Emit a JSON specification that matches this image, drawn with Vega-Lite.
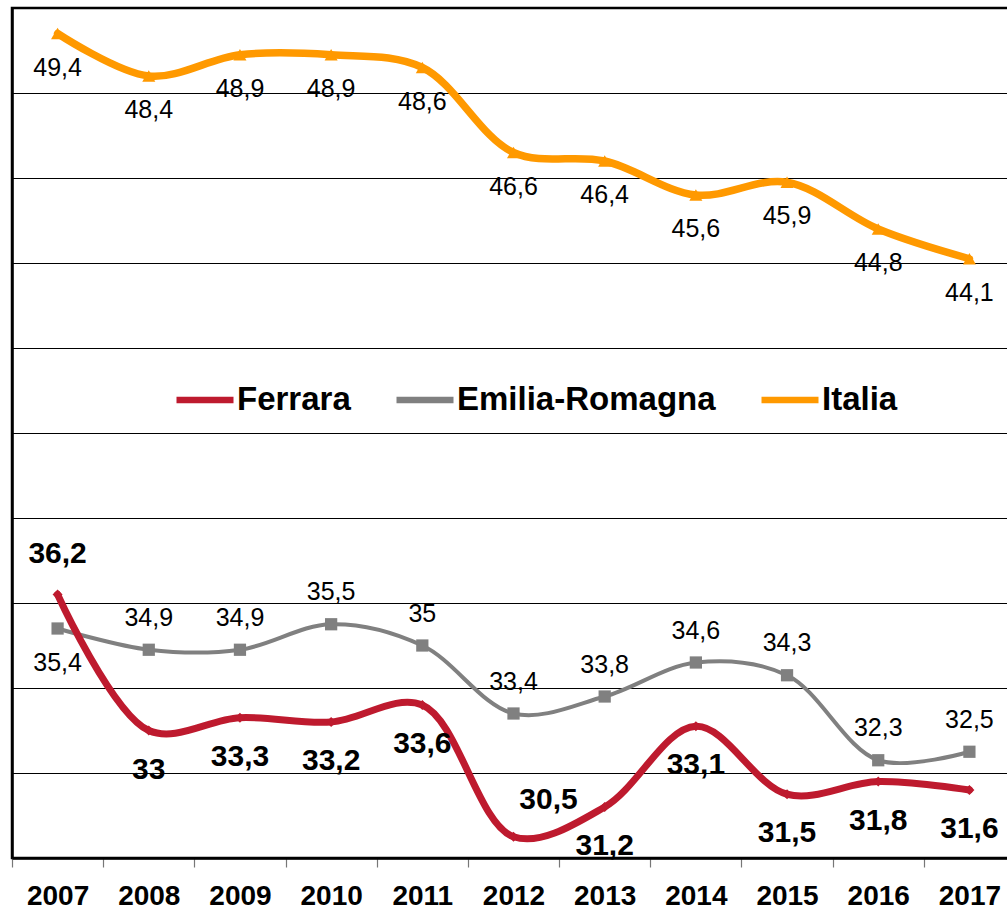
{
  "$schema": "https://vega.github.io/schema/vega-lite/v6.json",
  "width": 1003,
  "height": 850,
  "autosize": {"type": "none"},
  "padding": {"left": 12, "top": 8, "right": 0, "bottom": 52},
  "background": "white",
  "config": {
    "locale": {"number": {"decimal": ",", "thousands": ".", "grouping": [3], "currency": ["", " €"]}},
    "view": {"stroke": "black", "strokeWidth": 2.5},
    "font": "Liberation Sans"
  },
  "data": {
    "values": [
      {"year": "2007", "series": "Italia", "value": 49.4},
      {"year": "2008", "series": "Italia", "value": 48.4},
      {"year": "2009", "series": "Italia", "value": 48.9},
      {"year": "2010", "series": "Italia", "value": 48.9},
      {"year": "2011", "series": "Italia", "value": 48.6},
      {"year": "2012", "series": "Italia", "value": 46.6},
      {"year": "2013", "series": "Italia", "value": 46.4},
      {"year": "2014", "series": "Italia", "value": 45.6},
      {"year": "2015", "series": "Italia", "value": 45.9},
      {"year": "2016", "series": "Italia", "value": 44.8},
      {"year": "2017", "series": "Italia", "value": 44.1},
      {"year": "2007", "series": "Emilia-Romagna", "value": 35.4},
      {"year": "2008", "series": "Emilia-Romagna", "value": 34.9},
      {"year": "2009", "series": "Emilia-Romagna", "value": 34.9},
      {"year": "2010", "series": "Emilia-Romagna", "value": 35.5},
      {"year": "2011", "series": "Emilia-Romagna", "value": 35},
      {"year": "2012", "series": "Emilia-Romagna", "value": 33.4},
      {"year": "2013", "series": "Emilia-Romagna", "value": 33.8},
      {"year": "2014", "series": "Emilia-Romagna", "value": 34.6},
      {"year": "2015", "series": "Emilia-Romagna", "value": 34.3},
      {"year": "2016", "series": "Emilia-Romagna", "value": 32.3},
      {"year": "2017", "series": "Emilia-Romagna", "value": 32.5},
      {"year": "2007", "series": "Ferrara", "value": 36.2},
      {"year": "2008", "series": "Ferrara", "value": 33},
      {"year": "2009", "series": "Ferrara", "value": 33.3},
      {"year": "2010", "series": "Ferrara", "value": 33.2},
      {"year": "2011", "series": "Ferrara", "value": 33.6},
      {"year": "2012", "series": "Ferrara", "value": 30.5},
      {"year": "2013", "series": "Ferrara", "value": 31.2},
      {"year": "2014", "series": "Ferrara", "value": 33.1},
      {"year": "2015", "series": "Ferrara", "value": 31.5},
      {"year": "2016", "series": "Ferrara", "value": 31.8},
      {"year": "2017", "series": "Ferrara", "value": 31.6}
    ]
  },
  "encoding": {
    "x": {
      "field": "year", "type": "ordinal", "bandPosition": 0.5,
      "scale": {"type": "band", "paddingInner": 0, "paddingOuter": 0},
      "axis": {
        "title": null, "domainColor": "black", "domainWidth": 2.5,
        "tickColor": "#777777", "tickWidth": 1.2, "tickSize": 9, "tickBand": "extent",
        "labelFont": "Liberation Sans", "labelFontWeight": "bold", "labelFontSize": 28,
        "labelColor": "black", "labelPadding": 15, "labelAngle": 0, "grid": false
      }
    },
    "y": {
      "field": "value", "type": "quantitative",
      "scale": {"domain": [30, 50], "nice": false, "zero": false},
      "axis": {
        "title": null, "labels": false, "ticks": false,
        "values": [30, 32, 34, 36, 38, 40, 42, 44, 46, 48, 50],
        "domainColor": "black", "domainWidth": 2.5,
        "grid": true, "gridColor": "black", "gridWidth": 1, "gridOpacity": 1
      }
    },
    "color": {
      "field": "series", "type": "nominal",
      "scale": {"domain": ["Ferrara", "Emilia-Romagna", "Italia"], "range": ["#BE1A2E", "#808080", "#FF9900"]},
      "legend": {
        "title": null, "orient": "none", "direction": "horizontal",
        "legendX": 161, "legendY": 360,
        "symbolType": "stroke", "symbolStrokeWidth": 6.5, "symbolSize": 3249,
        "labelFont": "Liberation Sans", "labelFontWeight": "bold", "labelFontSize": 33,
        "labelColor": "black", "labelOffset": 0, "columnPadding": 32, "labelLimit": 400
      }
    }
  },
  "layer": [
    {
      "transform": [{"filter": "datum.series === 'Italia'"}],
      "mark": {"type": "line", "interpolate": "catmull-rom", "strokeCap": "round", "strokeJoin": "round", "strokeWidth": 7.5}
    },
    {
      "transform": [{"filter": "datum.series === 'Emilia-Romagna'"}],
      "mark": {"type": "line", "interpolate": "catmull-rom", "strokeCap": "round", "strokeJoin": "round", "strokeWidth": 4}
    },
    {
      "transform": [{"filter": "datum.series === 'Ferrara'"}],
      "mark": {"type": "line", "interpolate": "catmull-rom", "strokeCap": "round", "strokeJoin": "round", "strokeWidth": 7}
    },
    {
      "transform": [{"filter": "datum.series === 'Ferrara'"}],
      "mark": {"type": "point", "filled": true, "opacity": 1, "shape": "diamond", "size": 100, "color": "#BE1A2E"},
      "encoding": {"color": {"value": "#BE1A2E"}}
    },
    {
      "transform": [{"filter": "datum.series === 'Emilia-Romagna'"}],
      "mark": {"type": "point", "filled": true, "opacity": 1, "shape": "square", "size": 150, "color": "#808080"},
      "encoding": {"color": {"value": "#808080"}}
    },
    {
      "transform": [{"filter": "datum.series === 'Italia'"}],
      "mark": {"type": "point", "filled": true, "opacity": 1, "shape": "triangle-up", "size": 170, "color": "#FF9900"},
      "encoding": {"color": {"value": "#FF9900"}}
    },
    {
      "transform": [{"filter": "datum.series === 'Italia'"}],
      "mark": {"type": "text", "dy": 34, "fontSize": 25, "font": "Liberation Sans", "baseline": "middle"},
      "encoding": {"text": {"field": "value", "type": "quantitative", "format": "~g"}, "color": {"value": "black"}}
    },
    {
      "transform": [{"filter": "datum.series === 'Emilia-Romagna' && datum.year !== '2007'"}],
      "mark": {"type": "text", "dy": -32, "fontSize": 25, "font": "Liberation Sans", "baseline": "middle"},
      "encoding": {"text": {"field": "value", "type": "quantitative", "format": "~g"}, "color": {"value": "black"}}
    },
    {
      "transform": [{"filter": "datum.series === 'Emilia-Romagna' && datum.year === '2007'"}],
      "mark": {"type": "text", "dy": 34, "fontSize": 25, "font": "Liberation Sans", "baseline": "middle"},
      "encoding": {"text": {"field": "value", "type": "quantitative", "format": "~g"}, "color": {"value": "black"}}
    },
    {
      "transform": [{"filter": "datum.series === 'Ferrara' && datum.year !== '2007' && datum.year !== '2012'"}],
      "mark": {"type": "text", "dy": 39, "fontSize": 30, "fontWeight": "bold", "font": "Liberation Sans", "baseline": "middle"},
      "encoding": {"text": {"field": "value", "type": "quantitative", "format": "~g"}, "color": {"value": "black"}}
    },
    {
      "transform": [{"filter": "datum.series === 'Ferrara' && datum.year === '2007'"}],
      "mark": {"type": "text", "dy": -41, "fontSize": 30, "fontWeight": "bold", "font": "Liberation Sans", "baseline": "middle"},
      "encoding": {"text": {"field": "value", "type": "quantitative", "format": "~g"}, "color": {"value": "black"}}
    },
    {
      "transform": [{"filter": "datum.series === 'Ferrara' && datum.year === '2012'"}],
      "mark": {"type": "text", "dx": 35, "dy": -37, "fontSize": 30, "fontWeight": "bold", "font": "Liberation Sans", "baseline": "middle"},
      "encoding": {"text": {"field": "value", "type": "quantitative", "format": "~g"}, "color": {"value": "black"}}
    }
  ]
}
